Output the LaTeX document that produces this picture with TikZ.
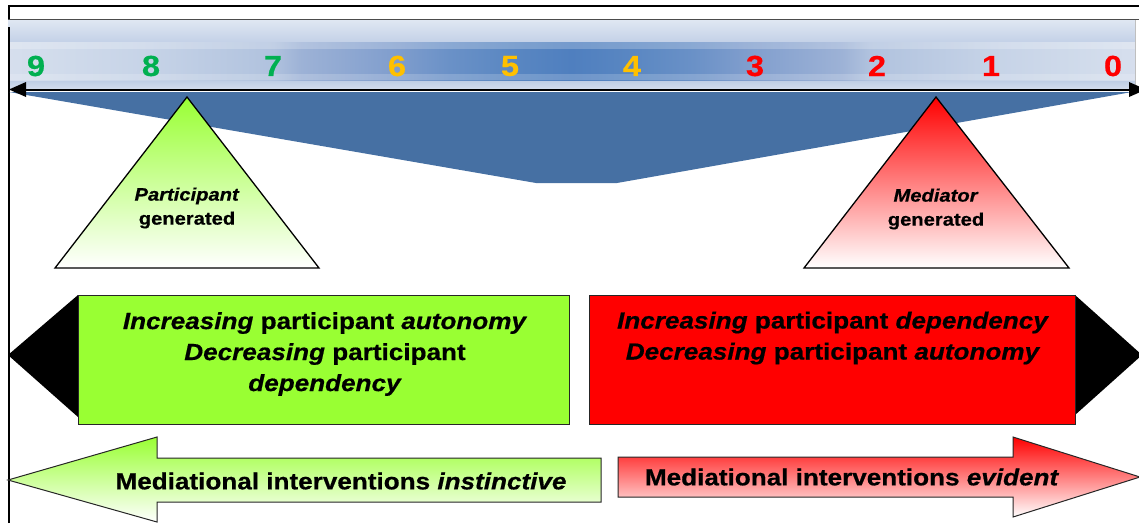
\documentclass[tikz,border=0pt]{standalone}
\usepackage{fontspec}
\setmainfont{Liberation Sans}[FakeStretch=1.12,
  BoldFeatures={FakeBold=0.6}, BoldItalicFeatures={FakeBold=0.6}]
% colours along the dark band of the scale bar, edge to centre
\definecolor{bandA}{RGB}{214,222,237}
\definecolor{bandB}{RGB}{211,221,236}
\definecolor{bandC}{RGB}{198,211,231}
\definecolor{bandD}{RGB}{176,194,222}
\definecolor{bandE}{RGB}{157,178,214}
\definecolor{bandF}{RGB}{127,157,205}
\definecolor{bandG}{RGB}{106,145,199}
\definecolor{bandH}{RGB}{90,135,194}
\definecolor{bandI}{RGB}{79,127,191}
\definecolor{paleTop}{RGB}{223,231,242}
\definecolor{paleMid}{RGB}{195,209,231}
\definecolor{paleLow}{RGB}{187,203,227}
\definecolor{paleBot}{RGB}{211,221,237}
\definecolor{wedgeblue}{RGB}{70,112,163}
\definecolor{numgreen}{RGB}{0,176,80}
\definecolor{numorange}{RGB}{255,192,0}
\definecolor{numred}{RGB}{255,0,0}
\definecolor{limegreen}{RGB}{153,255,51}
\definecolor{boxred}{RGB}{255,0,0}
\pgfdeclarehorizontalshading{bandshade}{100bp}{%
  color(0bp)=(bandA); color(25bp)=(bandA); color(26.2bp)=(bandB);
  color(31.3bp)=(bandC); color(36.8bp)=(bandD); color(38bp)=(bandE);
  color(42.3bp)=(bandF); color(44.6bp)=(bandG); color(47.3bp)=(bandH);
  color(50bp)=(bandI); color(52.7bp)=(bandH); color(55.4bp)=(bandG);
  color(57.7bp)=(bandF); color(62bp)=(bandE); color(63.2bp)=(bandD);
  color(68.7bp)=(bandC); color(73.8bp)=(bandB); color(75bp)=(bandA);
  color(100bp)=(bandA)}
\begin{document}
\begin{tikzpicture}[x=1pt,y=-1pt,
  num/.style={font=\fontsize{29}{29}\selectfont\bfseries, inner sep=0pt},
  tritext/.style={font=\fontsize{18}{24}\selectfont\bfseries, align=center, inner sep=0pt},
  boxtext/.style={font=\fontsize{23.3}{31}\selectfont\bfseries, align=center, inner sep=0pt},
  outline/.style={draw=black, line width=1.3pt, line join=miter},
  thinoutline/.style={draw=black!85, line width=1pt}]
\useasboundingbox (0,0) rectangle (1139,523);

% outer frame
\draw[line width=1.2pt] (9,523) -- (9,6) -- (1139,6);

% scale bar: pale top and bottom, dark band through the middle
\shade[top color=paleTop, bottom color=paleMid] (8,20) rectangle (1135,42.5);
\shade[top color=paleLow, bottom color=paleBot] (8,79.5) rectangle (1135,89);
\shade[shading=bandshade] (8,42) rectangle (1135,80);
\fill[white, opacity=0.22] (8,42) rectangle (1135,49);
\fill[white, opacity=0.18] (8,74) rectangle (1135,80);
\draw[gray!60!black, line width=1.5pt] (8,19.5) -- (1139,19.5);
\draw[gray!50, line width=0.8pt] (1135,20) -- (1135,89);
\draw[line width=2.5pt] (9,27) -- (9,92);

% blue wedge under the scale
\fill[wedgeblue] (9,92) -- (1132,92) -- (617,183) -- (536,183) -- cycle;

% double-headed axis
\draw[line width=2pt] (24,89.5) -- (1130,89.5);
\fill (9,89.5) -- (26,82) -- (26,97) -- cycle;
\fill (1146,89.5) -- (1129,82) -- (1129,97) -- cycle;

% scale numbers
\node[num, text=numgreen]  (n9) at (36,66)   {9};
\node[num, text=numgreen]  (n8) at (151,66)  {8};
\node[num, text=numgreen]  (n7) at (273,66)  {7};
\node[num, text=numorange] (n6) at (397,66)  {6};
\node[num, text=numorange] (n5) at (510,66)  {5};
\node[num, text=numorange] (n4) at (632,66)  {4};
\node[num, text=numred]    (n3) at (755,66)  {3};
\node[num, text=numred]    (n2) at (877,66)  {2};
\node[num, text=numred]    (n1) at (991,66)  {1};
\node[num, text=numred]    (n0) at (1113,66) {0};

% generator triangles
\shadedraw[top color=limegreen, bottom color=white, outline]
  (187,97) -- (319,268) -- (55,268) -- cycle;
\node[tritext] (partgen) at (187,208) {\textit{Participant}\\generated};
\shadedraw[top color=boxred, bottom color=white, outline]
  (936,97) -- (1069,268) -- (804,268) -- cycle;
\node[tritext] (medgen) at (936,209) {\textit{Mediator}\\generated};

% autonomy box (pointing left)
\fill (78,295) -- (8,355) -- (78,417) -- cycle;
\filldraw[fill=limegreen, thinoutline] (78.5,295) rectangle (569.5,424);
\node[boxtext] (autonomy) at (325,354)
  {\textit{Increasing} participant \textit{autonomy}\\
   \textit{Decreasing} participant\\ \textit{dependency}};

% dependency box (pointing right)
\fill (1075,295) -- (1142,355) -- (1075,415) -- cycle;
\filldraw[fill=boxred, thinoutline] (589,295) rectangle (1075,424);
\node[boxtext] (dependency) at (833,338)
  {\textit{Increasing} participant \textit{dependency}\\
   \textit{Decreasing} participant \textit{autonomy}};

% intervention arrows
\shadedraw[top color=limegreen, bottom color=white, thinoutline]
  (601,458) -- (157,458) -- (157,437) -- (8,480) -- (157,522)
  -- (157,502) -- (601,502) -- cycle;
\node[boxtext] (instinctive) at (341,481) {Mediational interventions \textit{instinctive}};
\shadedraw[top color=boxred, bottom color=white, thinoutline]
  (618,457) -- (1013,457) -- (1013,437) -- (1140,477) -- (1013,517)
  -- (1013,497) -- (618,497) -- cycle;
\node[boxtext] (evident) at (852,477) {Mediational interventions \textit{evident}};
\end{tikzpicture}
\end{document}
